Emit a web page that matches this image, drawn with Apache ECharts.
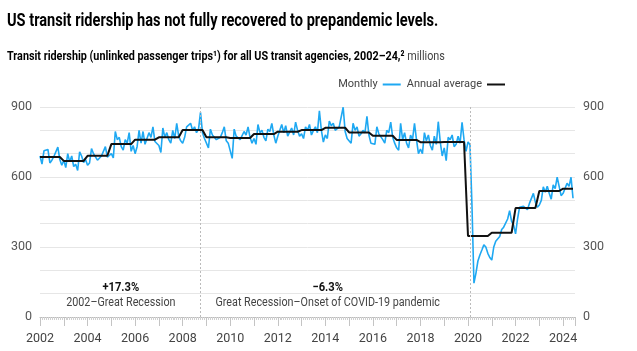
<!DOCTYPE html>
<html>
<head>
<meta charset="utf-8">
<script src="https://cdn.jsdelivr.net/npm/echarts@6/dist/echarts.min.js"></script>
<style>
  html, body { margin: 0; padding: 0; background: #fff; }
  #main { width: 637px; height: 351px; }
</style>
</head>
<body>
<div id="main"></div>
<script>
// annual averages, millions of unlinked trips, 2002..2024
const years = [2002, 2003, 2004, 2005, 2006, 2007, 2008, 2009, 2010, 2011, 2012, 2013,
  2014, 2015, 2016, 2017, 2018, 2019, 2020, 2021, 2022, 2023, 2024];
const annualAvg = [686, 669, 691, 741, 760, 770, 801, 770, 767, 784, 794, 801,
  811, 791, 777, 759, 749, 750, 347, 361, 467, 540, 550];

// monthly values, Jan 2002 .. Jun 2024 (one row per year)
const monthly = [
  690, 655, 712, 705, 718, 660, 672, 688, 680, 728, 675, 650,
  672, 640, 700, 665, 690, 645, 655, 628, 708, 690, 662, 675,
  650, 660, 722, 700, 702, 672, 680, 690, 710, 730, 685, 690,
  700, 682, 795, 760, 770, 730, 715, 760, 745, 790, 710, 735,
  700, 730, 800, 745, 795, 740, 740, 790, 770, 815, 752, 745,
  735, 705, 810, 770, 790, 760, 745, 800, 765, 830, 775, 755,
  745, 770, 815, 810, 830, 800, 815, 790, 805, 877, 790, 765,
  760, 725, 805, 780, 770, 760, 755, 770, 790, 815, 755, 745,
  740, 680, 805, 775, 770, 760, 755, 795, 780, 815, 770, 745,
  765, 740, 825, 790, 800, 770, 755, 805, 795, 830, 780, 745,
  775, 770, 825, 790, 820, 775, 770, 810, 780, 835, 800, 775,
  785, 765, 815, 800, 825, 780, 800, 815, 790, 884, 800, 750,
  780, 765, 840, 820, 830, 800, 805, 815, 820, 899, 795, 765,
  770, 745, 830, 800, 815, 775, 785, 800, 790, 860, 780, 745,
  750, 740, 815, 785, 790, 760, 745, 800, 790, 835, 770, 745,
  725, 715, 830, 760, 790, 745, 725, 780, 760, 830, 760, 700,
  720, 700, 790, 755, 780, 735, 715, 775, 740, 837, 750, 690,
  725, 670, 770, 760, 780, 730, 740, 775, 745, 834, 760, 710,
  750, 738, 480, 145, 187, 240, 266, 287, 309, 300, 273, 255,
  244, 300, 325, 330, 345, 375, 385, 390, 420, 456, 410, 395,
  356, 420, 470, 470, 474, 470, 460, 487, 490, 530, 492, 470,
  480, 500, 558, 535, 560, 530, 505, 566, 550, 599, 560, 520,
  530, 535, 573, 560, 599, 509
];

const eventLines = [2008.75, 2020.1];
const periodChange = ['+17.3%', '\u22126.3%'];
const periodLabel = ['2002\u2013Great Recession', 'Great Recession\u2013Onset of COVID-19 pandemic'];
const periodCenter = [2005.4, 2014.1];

const monthlyData = monthly.map((v, i) => [years[0] + i / 12, v]);
const annualData = monthly.map((v, i) => [years[0] + i / 12, annualAvg[Math.floor(i / 12)]]);

const font = 'Roboto, "Liberation Sans", sans-serif';
const chart = echarts.init(document.getElementById('main'));

const yAxisBase = {
  type: 'value',
  min: 0,
  max: 900,
  interval: 100,
  axisLine: { show: false },
  axisTick: { show: false },
  axisLabel: {
    formatter: (v) => (v % 300 === 0 ? String(v) : ''),
    color: '#555',
    fontSize: 12.5,
    fontFamily: font,
    margin: 8
  }
};

const option = {
  animation: false,
  textStyle: { fontFamily: font },
  legend: {
    right: 132,
    top: 79,
    padding: 0,
    align: 'right',
    itemWidth: 18,
    itemHeight: 2,
    itemGap: 6,
    textStyle: { fontSize: 11, color: '#444', fontFamily: font },
    data: [
      { name: 'Monthly', icon: 'rect' },
      { name: 'Annual average', icon: 'rect' }
    ]
  },
  grid: { left: 40, right: 62, top: 107, bottom: 34 },
  xAxis: {
    type: 'value',
    min: 2002,
    max: 2024.5,
    interval: 1,
    axisLine: { lineStyle: { color: '#bdbdbd' } },
    axisTick: { length: 9, lineStyle: { color: '#c4c4c4' } },
    minorTick: { show: true, splitNumber: 12, length: 3, lineStyle: { color: '#d0d0d0' } },
    splitLine: { show: false },
    axisLabel: {
      formatter: (v) => (Number.isInteger(v) && v % 2 === 0 ? String(v) : ''),
      color: '#444',
      fontSize: 12.5,
      fontFamily: font,
      margin: 15,
      showMaxLabel: false
    }
  },
  yAxis: [
    Object.assign({}, yAxisBase, {
      position: 'left',
      splitLine: { lineStyle: { color: '#e6e6e6' } }
    }),
    Object.assign({}, yAxisBase, {
      position: 'right',
      splitLine: { show: false }
    })
  ],
  series: [
    {
      name: 'Monthly',
      type: 'line',
      data: monthlyData,
      showSymbol: false,
      lineStyle: { color: '#1ea8f2', width: 1.6 },
      itemStyle: { color: '#1ea8f2' },
      z: 3,
      markLine: {
        silent: true,
        symbol: 'none',
        label: { show: false },
        lineStyle: { color: '#bbb', type: [2, 2], width: 1 },
        data: eventLines.map((x) => ({ xAxis: x }))
      }
    },
    {
      name: 'Annual average',
      type: 'line',
      data: annualData,
      showSymbol: false,
      lineStyle: { color: '#111', width: 2 },
      itemStyle: { color: '#111' },
      z: 4
    }
  ]
};

chart.setOption(option);

// headline + subtitle, squeezed a bit to mimic the condensed house font
const graphics = [
  {
    type: 'text', x: 7, y: 21, scaleX: 0.81,
    style: {
      text: 'US transit ridership has not fully recovered to prepandemic levels.',
      fill: '#000', font: 'bold 18px ' + font, textVerticalAlign: 'middle'
    }
  },
  {
    type: 'text', x: 7, y: 57, scaleX: 0.8,
    style: {
      text: '{b|Transit ridership (unlinked passenger trips\u00b9) for all US transit agencies, 2002\u201324,\u00b2} {n|millions}',
      textVerticalAlign: 'middle',
      rich: {
        b: { fontSize: 13.5, fontWeight: 'bold', fill: '#000', fontFamily: font },
        n: { fontSize: 13.5, fontWeight: 'normal', fill: '#444', fontFamily: font }
      }
    }
  }
];

// period annotations under the curve
periodCenter.forEach((mid, i) => {
  const p1 = chart.convertToPixel({ xAxisIndex: 0, yAxisIndex: 0 }, [mid, 125]);
  const p2 = chart.convertToPixel({ xAxisIndex: 0, yAxisIndex: 0 }, [mid, 61]);
  graphics.push({
    type: 'text', x: p1[0], y: p1[1], scaleX: 0.86,
    style: { text: periodChange[i], fill: '#111', font: 'bold 13px ' + font, textAlign: 'center', textVerticalAlign: 'middle' }
  });
  graphics.push({
    type: 'text', x: p2[0], y: p2[1], scaleX: 0.86,
    style: { text: periodLabel[i], fill: '#444', font: '12.5px ' + font, textAlign: 'center', textVerticalAlign: 'middle' }
  });
});
chart.setOption({ graphic: graphics });
</script>
</body>
</html>
